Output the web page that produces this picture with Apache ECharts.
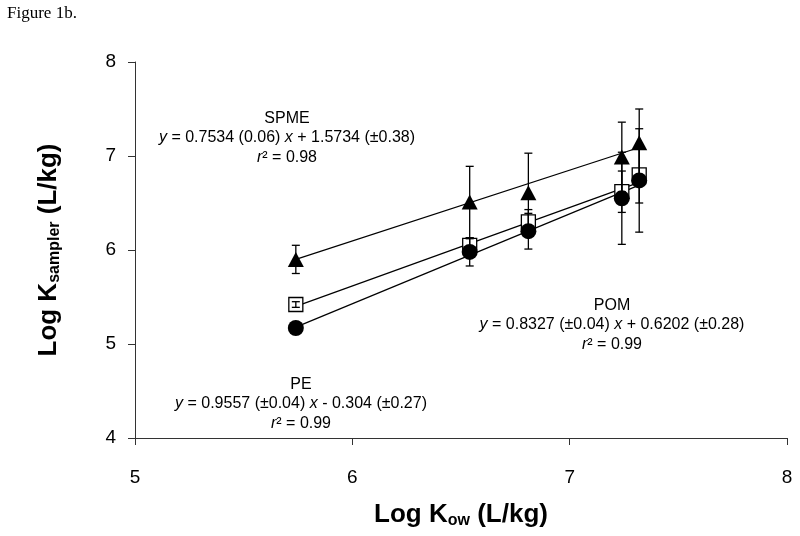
<!DOCTYPE html>
<html>
<head>
<meta charset="utf-8">
<script src="https://cdn.jsdelivr.net/npm/echarts@6/dist/echarts.min.js"></script>
<style>
html,body{margin:0;padding:0;background:#fff;}
#chart{width:800px;height:536px;}
</style>
</head>
<body>
<div id="chart"></div>
<script>
// Log Kow values (x)
var logKow = [5.74, 6.54, 6.81, 7.24, 7.32];
// SPME (filled triangles)
var spmeY   = [5.90, 6.51, 6.61, 6.99, 7.14];
var spmeErr = [0.15, 0.38, 0.42, 0.37, 0.36];
// POM (open squares)
var pomY    = [5.42, 6.05, 6.30, 6.62, 6.80];
var pomErr  = [0.03, 0.07, 0.13, 0.22, 0.30];
// PE (filled circles)
var peY     = [5.17, 5.98, 6.20, 6.55, 6.74];
var peErr   = [0.02, 0.15, 0.19, 0.49, 0.55];
// regression line end points [x, y]
var spmeFit = [[5.74, 5.90], [7.32, 7.09]];
var pomFit  = [[5.74, 5.40], [7.32, 6.72]];
var peFit   = [[5.74, 5.18], [7.32, 6.69]];
// axis ticks
var xTicks = [5, 6, 7, 8];
var yTicks = [4, 5, 6, 7, 8];

var FONT = 'Liberation Sans, Arial, sans-serif';

function pts(ys) { return logKow.map(function (x, i) { return [x, ys[i]]; }); }
function errs(ys, es) { return logKow.map(function (x, i) { return [x, ys[i] - es[i], ys[i] + es[i]]; }); }

function errorSeries(name, ys, es) {
  return {
    name: name + ' err', type: 'custom', z: 5,
    data: errs(ys, es),
    renderItem: function (params, api) {
      var x = api.value(0);
      var lo = api.coord([x, api.value(1)]);
      var hi = api.coord([x, api.value(2)]);
      var w = 4;
      var st = { stroke: '#000', lineWidth: 1.3 };
      return {
        type: 'group',
        children: [
          { type: 'line', shape: { x1: lo[0], y1: lo[1], x2: hi[0], y2: hi[1] }, style: st },
          { type: 'line', shape: { x1: lo[0] - w, y1: lo[1], x2: lo[0] + w, y2: lo[1] }, style: st },
          { type: 'line', shape: { x1: hi[0] - w, y1: hi[1], x2: hi[0] + w, y2: hi[1] }, style: st }
        ]
      };
    }
  };
}
function fitSeries(name, d) {
  return { name: name + ' fit', type: 'line', data: d, symbol: 'none', z: 1,
           lineStyle: { color: '#000', width: 1.2 }, silent: true };
}

var chart = echarts.init(document.getElementById('chart'), null, { renderer: 'canvas' });
chart.setOption({
  backgroundColor: '#fff',
  animation: false,
  grid: { left: 135, right: 13, top: 62, bottom: 98 },
  xAxis: {
    type: 'value', min: xTicks[0], max: xTicks[xTicks.length - 1], interval: 1,
    name: 'Log K{sub|ow} (L/kg)', nameLocation: 'middle', nameGap: 63,
    nameTextStyle: {
      fontFamily: FONT, fontSize: 26, fontWeight: 'bold', color: '#000',
      rich: { sub: { fontFamily: FONT, fontSize: 16, fontWeight: 'bold', color: '#000', padding: [12, 0, 0, 0] } }
    },
    axisLine: { lineStyle: { color: '#333', width: 1 } },
    axisTick: { show: true, inside: false, length: 7, lineStyle: { color: '#333' } },
    axisLabel: { fontFamily: FONT, fontSize: 19, color: '#000', margin: 30 },
    splitLine: { show: false }
  },
  yAxis: {
    type: 'value', min: yTicks[0], max: yTicks[yTicks.length - 1], interval: 1,
    name: 'Log K{sub|sampler} (L/kg)', nameLocation: 'middle', nameGap: 72, nameRotate: 90,
    nameTextStyle: {
      fontFamily: FONT, fontSize: 26, fontWeight: 'bold', color: '#000',
      rich: { sub: { fontFamily: FONT, fontSize: 16, fontWeight: 'bold', color: '#000', padding: [12, 0, 0, 0] } }
    },
    axisLine: { show: true, lineStyle: { color: '#333', width: 1 } },
    axisTick: { show: true, inside: false, length: 7, lineStyle: { color: '#333' } },
    axisLabel: { fontFamily: FONT, fontSize: 19, color: '#000', margin: 19 },
    splitLine: { show: false }
  },
  series: [
    fitSeries('SPME', spmeFit),
    fitSeries('POM', pomFit),
    fitSeries('PE', peFit),
    { name: 'POM', type: 'scatter', data: pts(pomY), symbol: 'rect', symbolSize: 14, z: 3,
      itemStyle: { color: '#fff', borderColor: '#000', borderWidth: 1.3, opacity: 1 } },
    { name: 'PE', type: 'scatter', data: pts(peY), symbol: 'circle', symbolSize: 16, z: 4,
      itemStyle: { color: '#000', opacity: 1 } },
    { name: 'SPME', type: 'scatter', data: pts(spmeY), symbol: 'triangle', symbolSize: [16, 15], z: 4,
      itemStyle: { color: '#000', opacity: 1 } },
    errorSeries('POM', pomY, pomErr),
    errorSeries('PE', peY, peErr),
    errorSeries('SPME', spmeY, spmeErr)
  ],
  graphic: [
    { type: 'text', left: 7, top: 5, style: { text: 'Figure 1b.', font: '17px "Liberation Serif", "Times New Roman", serif', fill: '#000' } },
    { type: 'text', x: 287, y: 138, style: {
        text: 'SPME\n{i|y} = 0.7534 (0.06) {i|x} + 1.5734 (±0.38)\n{i|r}² = 0.98',
        font: '16px ' + FONT, fill: '#000', align: 'center', verticalAlign: 'middle', lineHeight: 19.5,
        rich: { i: { fontStyle: 'italic', fontSize: 16, fontFamily: FONT, fill: '#000' } }
      }, z: 10 },
    { type: 'text', x: 612, y: 325, style: {
        text: 'POM\n{i|y} = 0.8327 (±0.04) {i|x} + 0.6202 (±0.28)\n{i|r}² = 0.99',
        font: '16px ' + FONT, fill: '#000', align: 'center', verticalAlign: 'middle', lineHeight: 19.5,
        rich: { i: { fontStyle: 'italic', fontSize: 16, fontFamily: FONT, fill: '#000' } }
      }, z: 10 },
    { type: 'text', x: 301, y: 404, style: {
        text: 'PE\n{i|y} = 0.9557 (±0.04) {i|x} - 0.304 (±0.27)\n{i|r}² = 0.99',
        font: '16px ' + FONT, fill: '#000', align: 'center', verticalAlign: 'middle', lineHeight: 19.5,
        rich: { i: { fontStyle: 'italic', fontSize: 16, fontFamily: FONT, fill: '#000' } }
      }, z: 10 }
  ]
});
</script>
</body>
</html>
